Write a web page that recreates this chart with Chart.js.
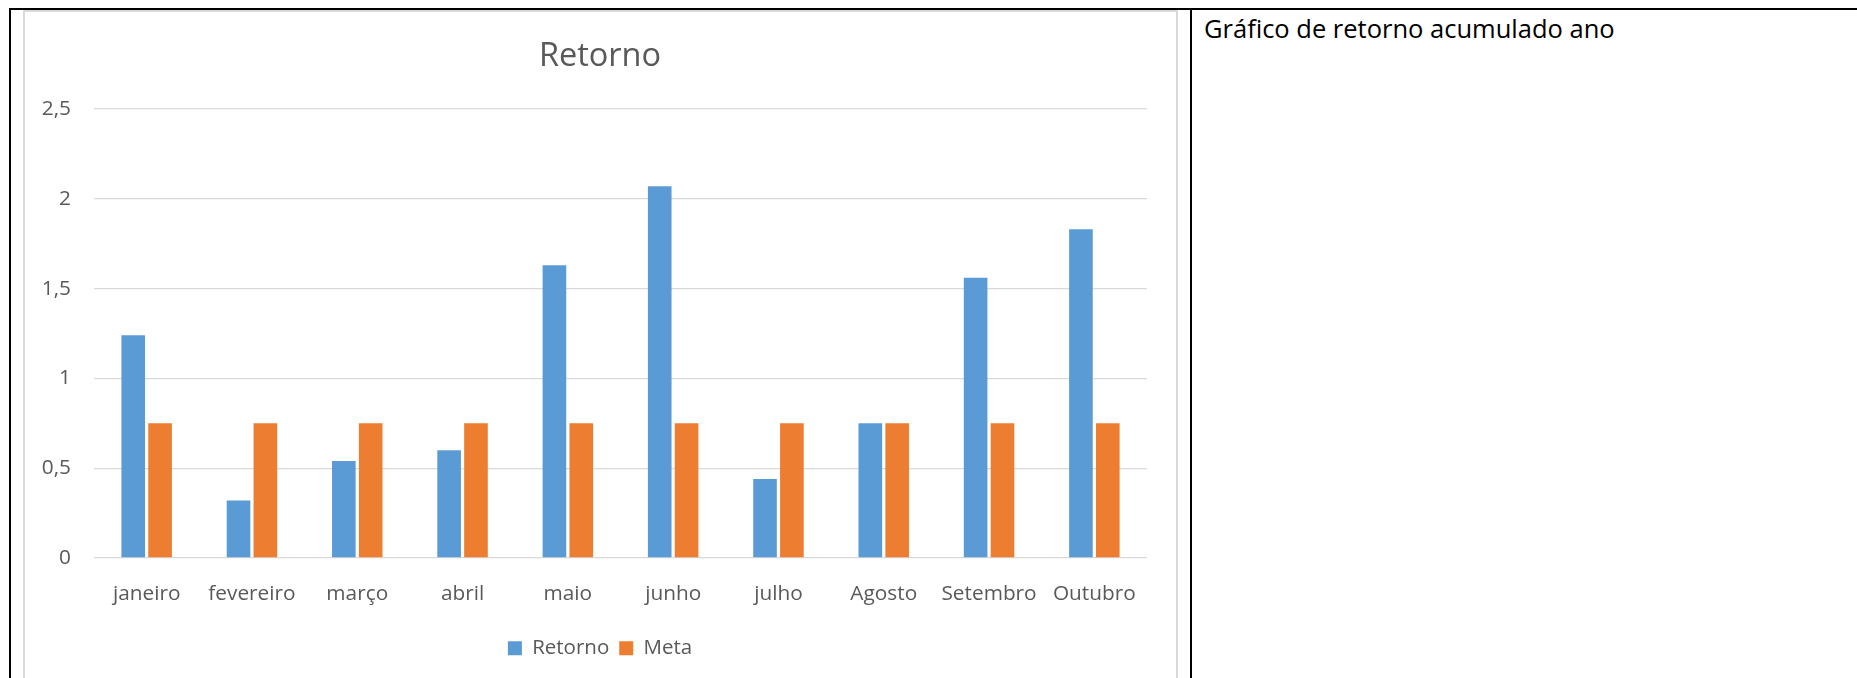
<!DOCTYPE html>
<html lang="pt">
<head>
<meta charset="utf-8">
<title>Retorno</title>
<script src="https://cdn.jsdelivr.net/npm/chart.js@4.4.1/dist/chart.umd.min.js"></script>
<style>
  html, body { margin: 0; padding: 0; background: #fff; }
  body { width: 1857px; height: 678px; position: relative; overflow: hidden; font-family: "Open Sans", sans-serif; }
  .linha { position: absolute; background: #000; }
  #topo { left: 9px; top: 8px; width: 1848px; height: 2px; }
  #esq { left: 9px; top: 8px; width: 2px; height: 670px; }
  #meio { left: 1190px; top: 8px; width: 2px; height: 670px; }
  #caixa { position: absolute; left: 23px; top: 10px; width: 1155px; height: 700px;
           box-sizing: border-box; border: 2px solid #d9d9d9; }
  #graficoRetorno { position: absolute; left: 25px; top: 12px; }
  #legenda { position: absolute; left: 1204px; top: 11px; font-size: 25.5px; color: #000; white-space: nowrap; }
</style>
</head>
<body>
<div class="linha" id="topo"></div>
<div class="linha" id="esq"></div>
<div class="linha" id="meio"></div>
<div id="caixa"></div>
<canvas id="graficoRetorno" width="1150" height="666"></canvas>
<div id="legenda">Gráfico de retorno acumulado ano</div>

<script>
const meses = ['janeiro', 'fevereiro', 'março', 'abril', 'maio', 'junho', 'julho', 'Agosto', 'Setembro', 'Outubro'];
const retorno = [1.24, 0.32, 0.54, 0.60, 1.63, 2.07, 0.44, 0.75, 1.56, 1.83];
const meta = [0.75, 0.75, 0.75, 0.75, 0.75, 0.75, 0.75, 0.75, 0.75, 0.75];
const yTicks = [0, 0.5, 1, 1.5, 2, 2.5];
const yTickLabels = ['0', '0,5', '1', '1,5', '2', '2,5'];

Chart.defaults.font.family = '"Open Sans", sans-serif';
Chart.defaults.color = '#595959';

const ctx = document.getElementById('graficoRetorno').getContext('2d');
const grafico = new Chart(ctx, {
    type: 'bar',
    data: {
        labels: meses,
        datasets: [{
            label: 'Retorno',
            data: retorno,
            backgroundColor: '#5B9BD5',
            categoryPercentage: 0.51,
            barPercentage: 0.88
        }, {
            label: 'Meta',
            data: meta,
            backgroundColor: '#ED7D31',
            categoryPercentage: 0.51,
            barPercentage: 0.88
        }]
    },
    options: {
        responsive: false,
        animation: false,
        layout: { padding: { left: 0, right: 0, top: 0, bottom: 9.5 } },
        plugins: {
            title: {
                display: true,
                text: 'Retorno',
                color: '#595959',
                font: { size: 32.5, weight: 'normal' },
                padding: { top: 25.5, bottom: 32.5 }
            },
            legend: {
                position: 'bottom',
                labels: {
                    boxWidth: 14,
                    boxHeight: 14,
                    padding: 10,
                    color: '#595959',
                    font: { size: 20.5 }
                }
            },
            tooltip: { enabled: false }
        },
        scales: {
            x: {
                grid: { display: false },
                border: { display: false },
                ticks: { color: '#595959', font: { size: 20.8 }, padding: 16, maxRotation: 0, autoSkip: false },
                afterFit: (s) => { s.height = 70; }
            },
            y: {
                min: 0,
                max: 2.5,
                grid: { color: '#d9d9d9', lineWidth: 1.3, drawTicks: false },
                border: { display: false },
                afterBuildTicks: (s) => { s.ticks = yTicks.map(v => ({ value: v })); },
                ticks: {
                    color: '#595959',
                    font: { size: 20.8 },
                    padding: 23,
                    callback: (v) => yTickLabels[yTicks.indexOf(v)]
                },
                afterFit: (s) => { s.width = 69; }
            },
            // eixo vazio à direita so para centrar titulo e legenda como no original
            margemDireita: {
                position: 'right',
                min: 0,
                max: 2.5,
                grid: { display: false },
                border: { display: false },
                ticks: { display: false },
                afterFit: (s) => { s.width = 28; }
            }
        }
    }
});
</script>
</body>
</html>
